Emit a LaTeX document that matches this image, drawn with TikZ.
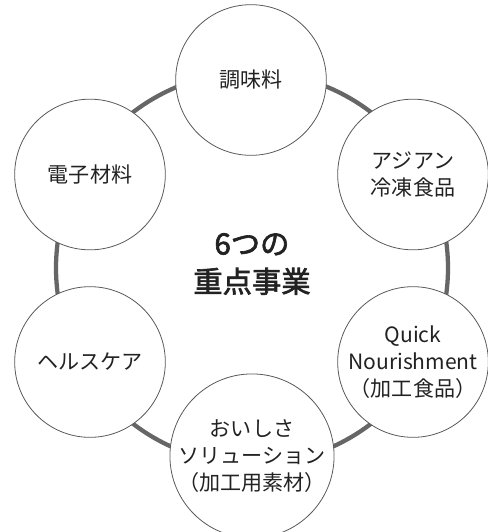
\documentclass[tikz,border=0pt]{standalone}
\usepackage{fontspec}
\setmainfont{Noto Sans CJK JP}
\newfontfamily\titlefont{Noto Sans CJK JP}[FakeBold=2.2]
\definecolor{ringgray}{HTML}{666666}
\definecolor{circgray}{HTML}{5A5A5A}
\definecolor{txt}{HTML}{222222}
\begin{document}
\begin{tikzpicture}[x=0.75pt,y=-0.75pt,
  item/.style={circle,draw=circgray,line width=0.6pt,fill=white,
    minimum size=113pt,inner sep=0pt,align=center,text=txt,
    font=\fontsize{15.8}{20.25}\selectfont},
  ring/.style={draw=ringgray,line width=3.2pt},
  title/.style={align=center,text=txt,font=\fontsize{22}{28.5}\selectfont\titlefont}]
\useasboundingbox (0,0) rectangle (487,532);
\coordinate (c) at (252,268);
\draw[ring] (c) circle[radius=147pt];
\node[item] (t)  at (251,80)    {調味料};
\node[item] (ur) at (413,174.5) {アジアン\\冷凍食品};
\node[item] (lr) at (413,362)   {Quick\\Nourishment\\（加工食品）};
\node[item] (b)  at (252,456)   {おいしさ\\ソリューション\\（加工用素材）};
\node[item] (ll) at (90,362)    {ヘルスケア};
\node[item] (ul) at (90,174.5)  {電子材料};
\node[title] (ct) at (252,264) {6つの\\重点事業};
\end{tikzpicture}
\end{document}
